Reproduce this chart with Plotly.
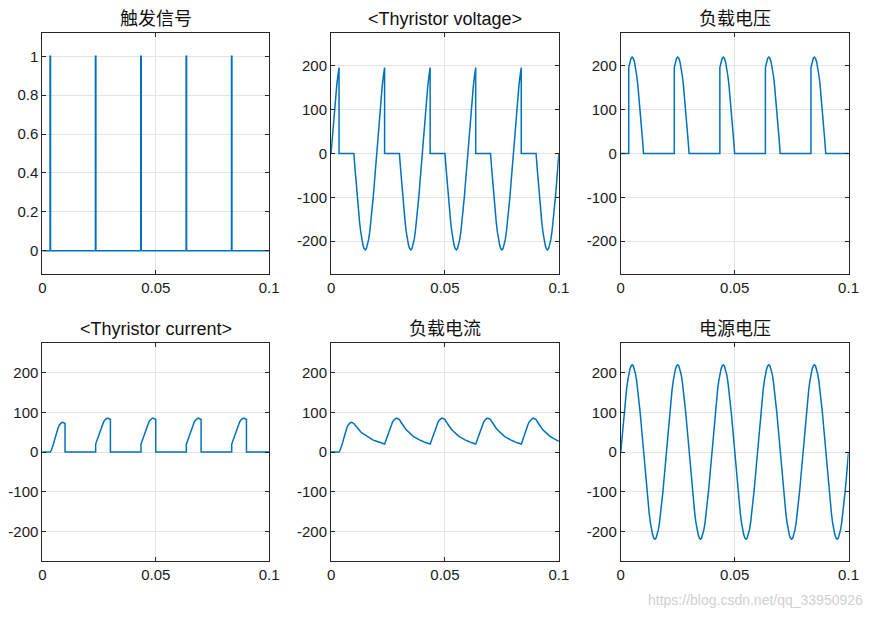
import plotly.graph_objects as go

PERIOD = 0.02
N_CYCLES = 5
T_STEP = 0.0005
FIRE_OFFSET = 0.0035
# one period of the source voltage, sampled every 0.5 ms (V)
src_cycle = [0, 34, 68, 100, 129, 156, 178, 196, 209, 217, 220, 217, 209, 196, 178, 156, 129, 100, 68, 34,
             0, -34, -68, -100, -129, -156, -178, -196, -209, -217, -220, -217, -209, -196, -178, -156, -129, -100, -68, -34]
# load current from firing instant (0.5 ms steps), first cycle and later cycles (A)
i_first_rise = [0, 5, 12, 22, 33, 44, 54, 62, 68, 72, 74, 75, 74, 72]
i_first_decay = [68, 64, 60, 57, 54, 51, 48, 46, 44, 42, 40, 38, 36, 35, 33, 32, 30, 29, 28, 27, 26, 25, 24, 23, 22, 21, 20]
i_rise = [20, 28, 37, 46, 55, 63, 70, 76, 80, 83, 85, 85, 84, 82]
i_decay = [77, 72, 68, 64, 60, 56, 53, 50, 47, 45, 42, 40, 38, 36, 34, 33, 31, 30, 29, 27, 26, 25, 24, 23, 22, 21, 20]
# trigger pulse times (s)
fire_times = [0.0035, 0.0235, 0.0435, 0.0635, 0.0835]

COLOR = "#0072BD"
FIRE_IDX = int(round(FIRE_OFFSET / T_STEP))   # 7
HALF_IDX = 20

t_src, v_src = [], []
t_load, v_load = [], []
t_thv, v_thv = [], []
t_thi, v_thi = [], []
t_li, v_li = [], []
for c in range(N_CYCLES):
    base = c * PERIOD
    for k, v in enumerate(src_cycle):
        t = round(base + k * T_STEP, 6)
        t_src.append(t); v_src.append(v)
        if k < FIRE_IDX:
            t_load.append(t); v_load.append(0)
            t_thv.append(t); v_thv.append(v)
        elif k == FIRE_IDX:
            t_load += [t, t]; v_load += [0, v]
            t_thv += [t, t]; v_thv += [v, 0]
        elif k <= HALF_IDX:
            t_load.append(t); v_load.append(v)
            t_thv.append(t); v_thv.append(0)
        else:
            t_load.append(t); v_load.append(0)
            t_thv.append(t); v_thv.append(v)
    rise = i_first_rise if c == 0 else i_rise
    if c == 0:
        for k in range(FIRE_IDX):
            t_li.append(round(k * T_STEP, 6)); v_li.append(0)
    for j, val in enumerate(rise):
        t_li.append(round(base + FIRE_OFFSET + j * T_STEP, 6)); v_li.append(val)
    dec = i_first_decay if c == 0 else i_decay
    for j, val in enumerate(dec):
        t = round(base + 0.0105 + j * T_STEP, 6)
        if t < base + PERIOD + FIRE_OFFSET and t <= 0.1:
            t_li.append(t); v_li.append(val)
    if c == 0:
        t_thi += [0, FIRE_OFFSET]; v_thi += [0, 0]
    else:
        t_thi += [round(base + FIRE_OFFSET, 6)]; v_thi += [0]
    for j, val in enumerate(rise):
        t_thi.append(round(base + FIRE_OFFSET + j * T_STEP, 6)); v_thi.append(val)
    t_thi += [round(base + 0.01, 6), round(base + PERIOD, 6)]; v_thi += [0, 0]
t_src.append(0.1); v_src.append(0)
t_load.append(0.1); v_load.append(0)
t_thv.append(0.1); v_thv.append(0)
t_thi.append(0.1); v_thi.append(0)

t_trig, v_trig = [0], [0]
for ft in fire_times:
    t_trig += [ft - 0.0001, ft - 0.0001, ft + 0.0001, ft + 0.0001]
    v_trig += [0, 1, 1, 0]
t_trig.append(0.1); v_trig.append(0)

panels = [
    ("触发信号", t_trig, v_trig),
    ("<Thyristor voltage>", t_thv, v_thv),
    ("负载电压", t_load, v_load),
    ("<Thyristor current>", t_thi, v_thi),
    ("负载电流", t_li, v_li),
    ("电源电压", t_src, v_src),
]

W, H = 875, 619
xdoms = [(41, 268), (330, 558), (620, 848)]
ydoms = [(33, 274), (343, 561)]

def fx(px):
    return min(1.0, max(0.0, (px - 2.6) / (W * 0.985)))

fig = go.Figure()
annotations = []
for i, (title, xs, ys) in enumerate(panels):
    r, c = divmod(i, 3)
    n = i + 1
    xa = "xaxis" if n == 1 else f"xaxis{n}"
    ya = "yaxis" if n == 1 else f"yaxis{n}"
    fig.add_trace(go.Scatter(x=xs, y=ys, mode="lines", line=dict(color=COLOR, width=1.5),
                             xaxis=f"x{'' if n == 1 else n}", yaxis=f"y{'' if n == 1 else n}",
                             showlegend=False, hoverinfo="skip"))
    x0, x1 = xdoms[c]; y0, y1 = ydoms[r]
    common = dict(showline=True, mirror="ticks", linecolor="#262626", linewidth=1,
                  ticks="inside", ticklen=4, tickcolor="#262626", showgrid=True,
                  gridcolor="#e3e3e3", zeroline=False,
                  tickfont=dict(family="Liberation Sans, Arial", size=15, color="#1a1a1a"))
    fig.layout[xa] = dict(domain=[fx(x0), fx(x1)], range=[0, 0.1],
                          tickvals=[0, 0.05, 0.1], ticktext=["0", "0.05", "0.1"],
                          anchor=f"y{'' if n == 1 else n}", **common)
    if i == 0:
        yr = [-0.12, 1.12]; tv = [0, 0.2, 0.4, 0.6, 0.8, 1]; tt = ["0", "0.2", "0.4", "0.6", "0.8", "1"]
    else:
        yr = [-275, 275]; tv = [-200, -100, 0, 100, 200]; tt = [str(v) for v in tv]
    fig.layout[ya] = dict(domain=[1 - y1 / H, 1 - y0 / H], range=yr, tickvals=tv, ticktext=tt,
                          anchor=f"x{'' if n == 1 else n}", **common)
    annotations.append(dict(text=title, x=fx((x0 + x1) / 2), y=1 - y0 / H, xref="paper", yref="paper",
                            xanchor="center", yanchor="bottom", yshift=2, showarrow=False,
                            font=dict(family="Liberation Sans, Noto Sans CJK SC", size=18, color="#111")))
annotations.append(dict(text="https://blog.csdn.net/qq_33950926", x=1.0, y=1 - 600 / H,
                        xref="paper", yref="paper", xanchor="right", yanchor="middle", showarrow=False,
                        font=dict(family="Liberation Sans", size=14, color="#d0d0d0")))
fig.update_layout(width=W, height=H, margin=dict(l=0, r=0, t=0, b=0),
                  paper_bgcolor="white", plot_bgcolor="white", annotations=annotations)
fig.write_html("out.html", config={"displayModeBar": False},
               post_script="document.body.style.margin='0';document.body.style.overflow='hidden';")
